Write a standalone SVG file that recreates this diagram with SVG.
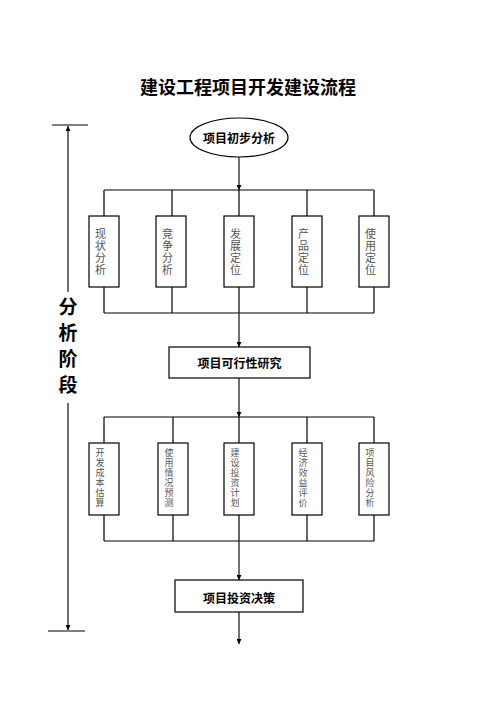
<svg xmlns="http://www.w3.org/2000/svg" width="496" height="702" viewBox="0 0 496 702">
<style>
.ln{stroke:#000;stroke-width:1.2;fill:none}
.ar{stroke:#333;stroke-width:1.4;fill:none}
.bx{fill:#fff;stroke:#000;stroke-width:1.2}
.t{font-family:"Noto Sans CJK SC","Noto Sans CJK JP",sans-serif;fill:#000}
.b{font-weight:bold;font-size:12px;text-anchor:middle;dominant-baseline:central}
.p{font-family:"Noto Sans CJK SC","Noto Sans CJK JP",sans-serif;font-size:19px;font-weight:bold;fill:#000;writing-mode:vertical-rl;text-orientation:upright}
.v{font-family:"Noto Sans CJK SC","Noto Sans CJK JP",sans-serif;font-size:11px;fill:#555;writing-mode:vertical-rl;text-orientation:upright}
.w{font-family:"Noto Sans CJK SC","Noto Sans CJK JP",sans-serif;font-size:9px;fill:#555;writing-mode:vertical-rl;text-orientation:upright}
</style>
<defs>
<marker id="ah" viewBox="0 0 10 10" refX="10" refY="5" markerWidth="5" markerHeight="5" orient="auto" markerUnits="userSpaceOnUse">
<path d="M0,0 L10,5 L0,10 z" fill="#000"/>
</marker>
</defs>
<rect width="496" height="702" fill="#fff"/>
<text class="t" x="248" y="86" font-size="18" font-weight="bold" text-anchor="middle" dominant-baseline="central">建设工程项目开发建设流程</text>

<g id="phase">
<line class="ln" x1="52" y1="125" x2="88" y2="125"/>
<line class="ln" x1="48" y1="631" x2="85" y2="631"/>
<line class="ar" x1="68" y1="292" x2="68" y2="126" marker-end="url(#ah)"/>
<line class="ar" x1="68" y1="403" x2="68" y2="630" marker-end="url(#ah)"/>
<text class="p" x="68" y="297.5">分</text>
<text class="p" x="68" y="323.5">析</text>
<text class="p" x="68" y="349.5">阶</text>
<text class="p" x="68" y="375.5">段</text>
</g>

<g id="connectors">
<line class="ar" x1="239" y1="157" x2="239" y2="190" marker-end="url(#ah)"/>
<line class="ln" x1="104" y1="190" x2="374" y2="190"/>
<line class="ln" x1="104" y1="190" x2="104" y2="216"/>
<line class="ln" x1="172" y1="190" x2="172" y2="216"/>
<line class="ln" x1="239" y1="190" x2="239" y2="216"/>
<line class="ln" x1="307" y1="190" x2="307" y2="216"/>
<line class="ln" x1="374" y1="190" x2="374" y2="216"/>
<line class="ln" x1="104" y1="287" x2="104" y2="313"/>
<line class="ln" x1="172" y1="287" x2="172" y2="313"/>
<line class="ln" x1="239" y1="287" x2="239" y2="313"/>
<line class="ln" x1="307" y1="287" x2="307" y2="313"/>
<line class="ln" x1="374" y1="287" x2="374" y2="313"/>
<line class="ln" x1="104" y1="313" x2="374" y2="313"/>
<line class="ar" x1="239" y1="313" x2="239" y2="347" marker-end="url(#ah)"/>
<line class="ar" x1="239" y1="378" x2="239" y2="417" marker-end="url(#ah)"/>
<line class="ln" x1="104" y1="417" x2="374" y2="417"/>
<line class="ln" x1="104" y1="417" x2="104" y2="443"/>
<line class="ln" x1="173" y1="417" x2="173" y2="443"/>
<line class="ln" x1="239" y1="417" x2="239" y2="443"/>
<line class="ln" x1="307" y1="417" x2="307" y2="443"/>
<line class="ln" x1="374" y1="417" x2="374" y2="443"/>
<line class="ln" x1="104" y1="515" x2="104" y2="541"/>
<line class="ln" x1="173" y1="515" x2="173" y2="541"/>
<line class="ln" x1="239" y1="515" x2="239" y2="541"/>
<line class="ln" x1="307" y1="515" x2="307" y2="541"/>
<line class="ln" x1="374" y1="515" x2="374" y2="541"/>
<line class="ln" x1="104" y1="541" x2="374" y2="541"/>
<line class="ar" x1="239" y1="541" x2="239" y2="580" marker-end="url(#ah)"/>
<line class="ar" x1="239" y1="612" x2="239" y2="644" marker-end="url(#ah)"/>
</g>

<g id="n-start">
<ellipse class="bx" cx="239" cy="137.5" rx="49" ry="19.5"/>
<text class="t b" x="239" y="137.5">项目初步分析</text>
</g>

<g id="n-a1"><rect class="bx" x="89" y="216" width="30" height="71"/>
<text class="v" x="100.5" y="228.5">现</text><text class="v" x="100.5" y="240.5">状</text><text class="v" x="100.5" y="252.5">分</text><text class="v" x="100.5" y="264.5">析</text></g>
<g id="n-a2"><rect class="bx" x="156" y="216" width="30" height="71"/>
<text class="v" x="167.5" y="228.5">竞</text><text class="v" x="167.5" y="240.5">争</text><text class="v" x="167.5" y="252.5">分</text><text class="v" x="167.5" y="264.5">析</text></g>
<g id="n-a3"><rect class="bx" x="224" y="216" width="30" height="71"/>
<text class="v" x="235.5" y="228.5">发</text><text class="v" x="235.5" y="240.5">展</text><text class="v" x="235.5" y="252.5">定</text><text class="v" x="235.5" y="264.5">位</text></g>
<g id="n-a4"><rect class="bx" x="292" y="216" width="30" height="71"/>
<text class="v" x="303.5" y="228.5">产</text><text class="v" x="303.5" y="240.5">品</text><text class="v" x="303.5" y="252.5">定</text><text class="v" x="303.5" y="264.5">位</text></g>
<g id="n-a5"><rect class="bx" x="359" y="216" width="30" height="71"/>
<text class="v" x="370.5" y="228.5">使</text><text class="v" x="370.5" y="240.5">用</text><text class="v" x="370.5" y="252.5">定</text><text class="v" x="370.5" y="264.5">位</text></g>

<g id="n-feas">
<rect class="bx" x="169" y="347" width="141" height="31"/>
<text class="t b" x="239.5" y="362.5">项目可行性研究</text>
</g>

<g id="n-b1"><rect class="bx" x="89" y="443" width="30" height="72"/>
<text class="w" x="100" y="448.5">开</text><text class="w" x="100" y="458.5">发</text><text class="w" x="100" y="468.5">成</text><text class="w" x="100" y="478.5">本</text><text class="w" x="100" y="488.5">估</text><text class="w" x="100" y="498.5">算</text></g>
<g id="n-b2"><rect class="bx" x="158" y="443" width="30" height="72"/>
<text class="w" x="169" y="448.5">使</text><text class="w" x="169" y="458.5">用</text><text class="w" x="169" y="468.5">情</text><text class="w" x="169" y="478.5">况</text><text class="w" x="169" y="488.5">预</text><text class="w" x="169" y="498.5">测</text></g>
<g id="n-b3"><rect class="bx" x="224" y="443" width="30" height="72"/>
<text class="w" x="235" y="448.5">建</text><text class="w" x="235" y="458.5">设</text><text class="w" x="235" y="468.5">投</text><text class="w" x="235" y="478.5">资</text><text class="w" x="235" y="488.5">计</text><text class="w" x="235" y="498.5">划</text></g>
<g id="n-b4"><rect class="bx" x="292" y="443" width="30" height="72"/>
<text class="w" x="303" y="448.5">经</text><text class="w" x="303" y="458.5">济</text><text class="w" x="303" y="468.5">效</text><text class="w" x="303" y="478.5">益</text><text class="w" x="303" y="488.5">评</text><text class="w" x="303" y="498.5">价</text></g>
<g id="n-b5"><rect class="bx" x="359" y="443" width="30" height="72"/>
<text class="w" x="370" y="448.5">项</text><text class="w" x="370" y="458.5">目</text><text class="w" x="370" y="468.5">风</text><text class="w" x="370" y="478.5">险</text><text class="w" x="370" y="488.5">分</text><text class="w" x="370" y="498.5">析</text></g>

<g id="n-decision">
<rect class="bx" x="175" y="580" width="128" height="32"/>
<text class="t b" x="239" y="597">项目投资决策</text>
</g>
</svg>
